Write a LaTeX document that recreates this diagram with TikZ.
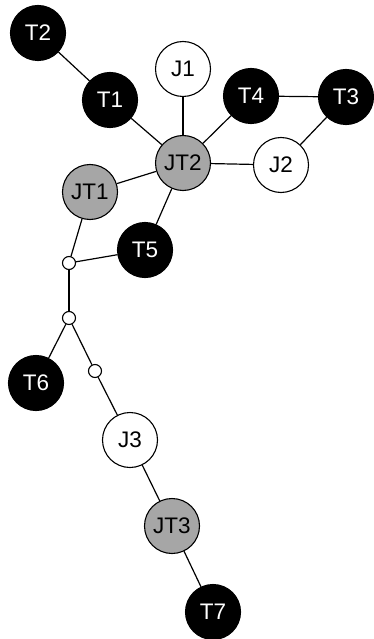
\documentclass[tikz,border=0pt]{standalone}
\usepackage{fontspec}
\setmainfont{Liberation Sans}
\definecolor{jtgray}{RGB}{166,166,166}
\begin{document}
\begin{tikzpicture}[x=1pt,y=-1pt,
  base/.style={circle,draw=black,line width=1.1pt,minimum size=55pt,inner sep=0pt,font=\fontsize{22.5}{22.5}\selectfont},
  tnode/.style={base,fill=black,text=white},
  jnode/.style={base,fill=white,text=black},
  jtnode/.style={base,fill=jtgray,text=black},
  small/.style={circle,draw=black,line width=1.1pt,fill=white,minimum size=13pt,inner sep=0pt},
  edge/.style={line width=1.2pt}]
\useasboundingbox (0,0) rectangle (373,639);
\node[tnode] (T2) at (38,33) {T2};
\node[tnode] (T1) at (110,100) {T1};
\node[jnode] (J1) at (183,69) {J1};
\node[tnode] (T4) at (251,96) {T4};
\node[tnode] (T3) at (346,97) {T3};
\node[jtnode] (JT2) at (183,163) {JT2};
\node[jnode] (J2) at (281,165) {J2};
\node[jtnode] (JT1) at (90,192) {JT1};
\node[tnode] (T5) at (145,250) {T5};
\node[small] (s1) at (69,263) {};
\node[small] (s2) at (69,318) {};
\node[small] (s3) at (95,371) {};
\node[tnode] (T6) at (36,383) {T6};
\node[jnode] (J3) at (130,440) {J3};
\node[jtnode] (JT3) at (172,526) {JT3};
\node[tnode] (T7) at (213,612) {T7};
\draw[edge] (T2) -- (T1);
\draw[edge] (T1) -- (JT2);
\draw[edge] (J1) -- (JT2);
\draw[edge] (T4) -- (JT2);
\draw[edge] (T4) -- (T3);
\draw[edge] (T3) -- (J2);
\draw[edge] (J2) -- (JT2);
\draw[edge] (JT2) -- (JT1);
\draw[edge] (JT2) -- (T5);
\draw[edge] (JT1) -- (s1);
\draw[edge] (T5) -- (s1);
\draw[edge] (s1) -- (s2);
\draw[edge] (s2) -- (T6);
\draw[edge] (s2) -- (s3);
\draw[edge] (s3) -- (J3);
\draw[edge] (J3) -- (JT3);
\draw[edge] (JT3) -- (T7);
\end{tikzpicture}
\end{document}
